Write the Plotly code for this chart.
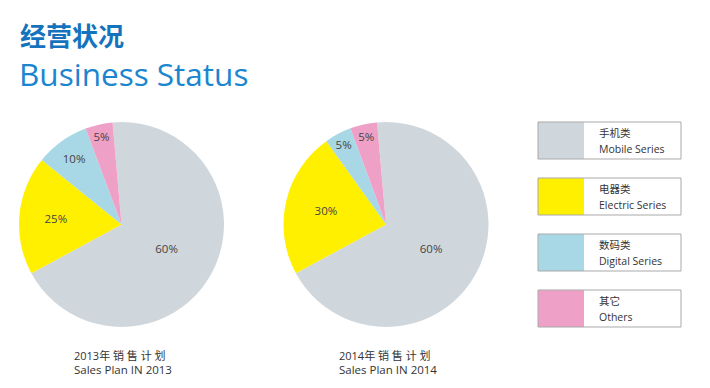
import plotly.graph_objects as go

W, H = 710, 388

# ---- data ----
categories_cn = ["手机类", "电器类", "数码类", "其它"]
categories_en = ["Mobile Series", "Electric Series", "Digital Series", "Others"]
colors = ["#d0d7dc", "#fff000", "#a8d8e6", "#efa0c6"]

# slice sizes as drawn in the picture (angles measured), and printed labels
values_2013 = [68.5, 18.7, 8.5, 4.3]
labels_2013 = ["60%", "25%", "10%", "5%"]
values_2014 = [68.5, 23.0, 4.25, 4.25]
labels_2014 = ["60%", "30%", "5%", "5%"]

captions_cn = ["2013年 销 售 计 划", "2014年 销 售 计 划"]
captions_en = ["Sales Plan IN 2013", "Sales Plan IN 2014"]

title_cn = "经营状况"
title_en = "Business Status"

FONT = "Open Sans, Noto Sans CJK SC, sans-serif"


def px(x):
    return x / W


def py(y):
    return 1 - y / H


fig = go.Figure()

pies = [
    (values_2013, labels_2013, (19, 224)),
    (values_2014, labels_2014, (283, 489)),
]
for vals, labs, (x0, x1) in pies:
    fig.add_trace(go.Pie(
        labels=categories_en,
        values=vals,
        text=labs,
        textinfo="text",
        textposition="inside",
        insidetextorientation="horizontal",
        sort=False,
        direction="clockwise",
        rotation=-5,
        marker=dict(colors=colors, line=dict(width=0)),
        textfont=dict(family=FONT, size=11.5, color="#444444"),
        domain=dict(x=[px(x0), px(x1)], y=[py(327), py(122)]),
        showlegend=False,
        hoverinfo="label+text",
    ))

annotations = [
    dict(text="<b>" + title_cn + "</b>", x=px(18), y=py(34), xref="paper", yref="paper",
         xanchor="left", yanchor="middle", showarrow=False,
         font=dict(family="Noto Sans CJK SC", size=26, color="#1573bd")),
    dict(text=title_en, x=px(17), y=py(73), xref="paper", yref="paper",
         xanchor="left", yanchor="middle", showarrow=False,
         font=dict(family=FONT, size=31.5, color="#1b86cf")),
]

cap_x = [72, 337]
for i in range(2):
    annotations.append(dict(text=captions_cn[i], x=px(cap_x[i]), y=py(355), xref="paper", yref="paper",
                            xanchor="left", yanchor="middle", showarrow=False,
                            font=dict(family=FONT, size=11, color="#333333")))
    annotations.append(dict(text=captions_en[i], x=px(cap_x[i]), y=py(369), xref="paper", yref="paper",
                            xanchor="left", yanchor="middle", showarrow=False,
                            font=dict(family=FONT, size=11.5, color="#333333")))

shapes = []
box_x0, box_sw, box_x1 = 538, 584, 681
box_top, box_h, box_pitch = 122, 37, 56
for i in range(len(categories_cn)):
    t = box_top + i * box_pitch
    b = t + box_h
    shapes.append(dict(type="rect", xref="paper", yref="paper",
                       x0=px(box_x0), x1=px(box_sw), y0=py(b), y1=py(t),
                       fillcolor=colors[i], line=dict(width=0)))
    shapes.append(dict(type="rect", xref="paper", yref="paper",
                       x0=px(box_x0), x1=px(box_x1), y0=py(b), y1=py(t),
                       fillcolor="rgba(0,0,0,0)", line=dict(width=1, color="#a9a9a9")))
    annotations.append(dict(text=categories_cn[i], x=px(597), y=py(t + 11), xref="paper", yref="paper",
                            xanchor="left", yanchor="middle", showarrow=False,
                            font=dict(family=FONT, size=10.5, color="#333333")))
    annotations.append(dict(text=categories_en[i], x=px(597), y=py(t + 27), xref="paper", yref="paper",
                            xanchor="left", yanchor="middle", showarrow=False,
                            font=dict(family=FONT, size=10.5, color="#333333")))

fig.update_layout(
    width=W, height=H,
    margin=dict(l=0, r=0, t=0, b=0),
    paper_bgcolor="white", plot_bgcolor="white",
    annotations=annotations,
    shapes=shapes,
)

fig.write_html("out.html", config={"displayModeBar": False},
               post_script="document.body.style.margin='0';")
